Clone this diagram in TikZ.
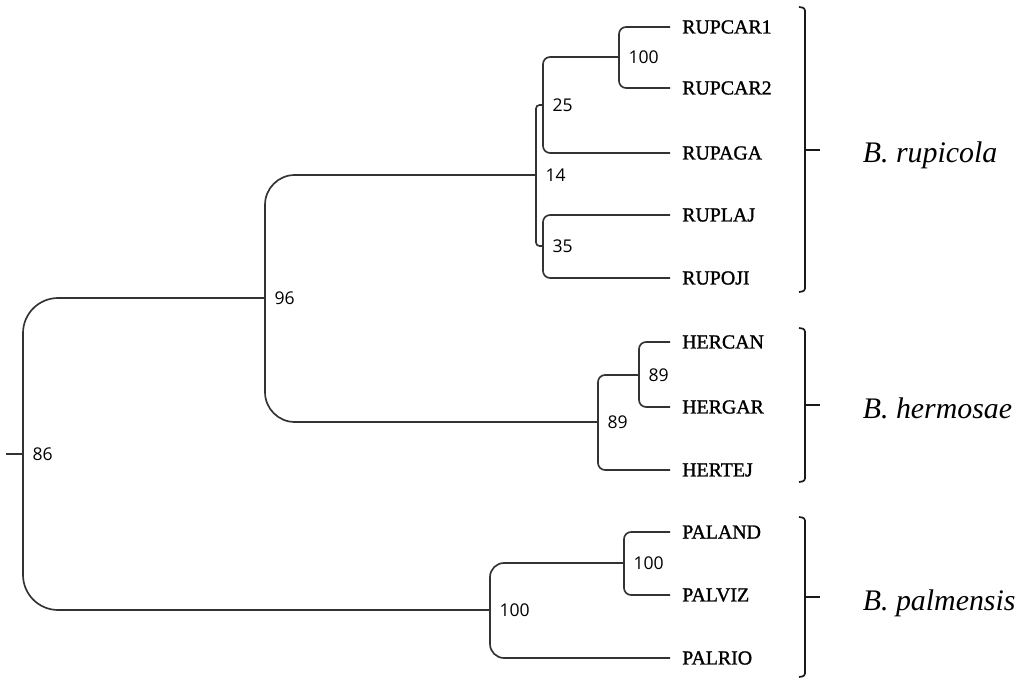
\documentclass[tikz,border=0pt]{standalone}
\usepackage{fontspec}
\setmainfont{Liberation Serif}
\newfontfamily\taxonfont[FakeBold=1.3]{Liberation Serif}
\newfontfamily\bootfont{Open Sans}

\tikzset{
    taxon/.style={anchor=west, inner xsep=6.5pt, inner ysep=0pt, font=\taxonfont\fontsize{11.3}{13}\selectfont},
    boot/.style={anchor=west, inner sep=0pt, xshift=5pt, font=\bootfont\fontsize{10}{11}\selectfont},
    clade/.style={anchor=base west, inner sep=0pt, font=\itshape\fontsize{17}{19}\selectfont},
    branch/.style={draw=black!80, rounded corners=#1},
    branch/.default=4pt,
    bracket/.style={draw=black!90, rounded corners=1.5pt}
}

\begin{document}
\begin{tikzpicture}[x=0.02cm, y=-0.02cm, line width=0.95pt]
    \useasboundingbox (0,0) rectangle (1023,678);

    % Leaves
    \node[taxon] (car1) at (670,27) {RUPCAR1};
    \node[taxon] (car2) at (670,88) {RUPCAR2};
    \node[taxon] (aga) at (670,153) {RUPAGA};
    \node[taxon] (laj) at (670,215) {RUPLAJ};
    \node[taxon] (oji) at (670,278) {RUPOJI};
    \node[taxon] (hcan) at (670,342) {HERCAN};
    \node[taxon] (hgar) at (670,407) {HERGAR};
    \node[taxon] (htej) at (670,470) {HERTEJ};
    \node[taxon] (pand) at (670,532) {PALAND};
    \node[taxon] (pviz) at (670,595) {PALVIZ};
    \node[taxon] (prio) at (670,658) {PALRIO};

    % Internal nodes
    \coordinate (nCar) at (619,57);
    \coordinate (n25) at (543,105);
    \coordinate (n35) at (543,246);
    \coordinate (n14) at (536,175);
    \coordinate (nHer2) at (639,375);
    \coordinate (nHer) at (598,422);
    \coordinate (n96) at (265,298);
    \coordinate (nPal2) at (624,563);
    \coordinate (nPal) at (490,610);
    \coordinate (n86) at (23,454);
    \coordinate (root) at (6,454);

    % Branches
    \draw[branch] (nCar) |- (car1.west);
    \draw[branch] (nCar) |- (car2.west);
    \draw[branch] (n25) |- (nCar);
    \draw[branch] (n25) |- (aga.west);
    \draw[branch] (n35) |- (laj.west);
    \draw[branch] (n35) |- (oji.west);
    \draw[branch=2pt] (n14) |- (n25);
    \draw[branch=2pt] (n14) |- (n35);
    \draw[branch] (nHer2) |- (hcan.west);
    \draw[branch] (nHer2) |- (hgar.west);
    \draw[branch] (nHer) |- (nHer2);
    \draw[branch] (nHer) |- (htej.west);
    \draw[branch=17pt] (n96) |- (n14);
    \draw[branch=17pt] (n96) |- (nHer);
    \draw[branch] (nPal2) |- (pand.west);
    \draw[branch] (nPal2) |- (pviz.west);
    \draw[branch=8pt] (nPal) |- (nPal2);
    \draw[branch=8pt] (nPal) |- (prio.west);
    \draw[branch=20pt] (n86) |- (n96);
    \draw[branch=20pt] (n86) |- (nPal);
    \draw[branch] (root) -- (n86);

    % Bootstrap values
    \node[boot] at (nCar) {100};
    \node[boot] at (n25) {25};
    \node[boot] at (n35) {35};
    \node[boot] at (n14) {14};
    \node[boot] at (nHer2) {89};
    \node[boot] at (nHer) {89};
    \node[boot] at (n96) {96};
    \node[boot] at (nPal2) {100};
    \node[boot] at (nPal) {100};
    \node[boot] at (n86) {86};

    % Species brackets
    \draw[bracket] (799,7) -- (805,8) -- (805,291) -- (799,292);
    \draw[bracket] (805,150) -- (820,150);
    \node[clade] (rup) at (862,163) {B. rupicola};
    \draw[bracket] (799,328) -- (805,329) -- (805,481) -- (799,482);
    \draw[bracket] (805,405) -- (820,405);
    \node[clade] (her) at (862,418) {B. hermosae};
    \draw[bracket] (799,517) -- (805,518) -- (805,676) -- (799,677);
    \draw[bracket] (805,597) -- (820,597);
    \node[clade] (pal) at (862,610) {B. palmensis};
\end{tikzpicture}
\end{document}
